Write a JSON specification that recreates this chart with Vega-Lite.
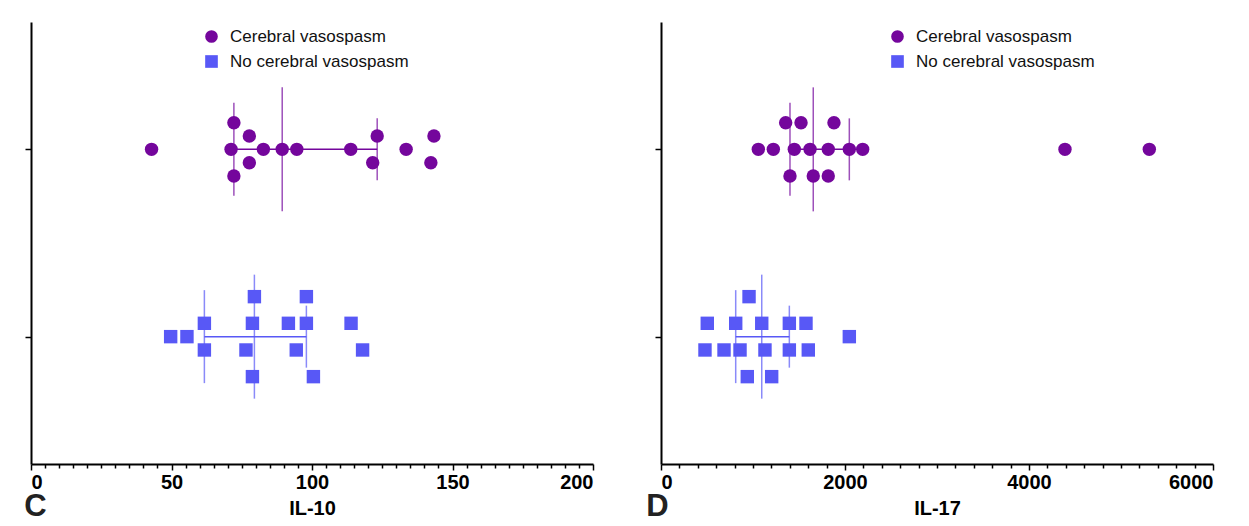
{
  "$schema": "https://vega.github.io/schema/vega-lite/v6.json",
  "background": "white",
  "padding": {"left": 24, "top": 22, "right": 5, "bottom": 0},
  "bounds": "flush",
  "spacing": 68,
  "resolve": {"scale": {"color": "independent", "shape": "independent"}, "legend": {"color": "independent", "shape": "independent"}},
  "config": {
    "font": "Liberation Sans",
    "view": {"stroke": null},
    "axis": {
      "grid": false,
      "domainColor": "black",
      "domainWidth": 2,
      "tickColor": "black",
      "tickWidth": 1.5,
      "labelFont": "Liberation Sans",
      "labelFontWeight": "bold",
      "labelFontSize": 20,
      "labelColor": "black",
      "labelPadding": 2,
      "labelOverlap": false,
      "titleFont": "Liberation Sans",
      "titleFontWeight": "bold",
      "titleFontSize": 20,
      "titleColor": "black",
      "titlePadding": 6
    },
    "legend": {
      "labelFont": "Liberation Sans",
      "labelFontSize": 17,
      "labelColor": "#111111",
      "labelLimit": 0,
      "symbolSize": 160,
      "symbolOpacity": 1,
      "symbolStrokeWidth": 0,
      "labelOffset": 10,
      "rowPadding": 7,
      "padding": 0
    },
    "title": {"font": "Liberation Sans", "fontSize": 31, "fontWeight": "bold", "color": "#222222"}
  },
  "datasets": {
    "il10_points": [
      {"group": "Cerebral vasospasm", "value": 42.9, "lane": 0},
      {"group": "Cerebral vasospasm", "value": 72.2, "lane": -2},
      {"group": "Cerebral vasospasm", "value": 77.7, "lane": -1},
      {"group": "Cerebral vasospasm", "value": 71.2, "lane": 0},
      {"group": "Cerebral vasospasm", "value": 77.7, "lane": 1},
      {"group": "Cerebral vasospasm", "value": 72.2, "lane": 2},
      {"group": "Cerebral vasospasm", "value": 82.7, "lane": 0},
      {"group": "Cerebral vasospasm", "value": 89.4, "lane": 0},
      {"group": "Cerebral vasospasm", "value": 94.6, "lane": 0},
      {"group": "Cerebral vasospasm", "value": 113.8, "lane": 0},
      {"group": "Cerebral vasospasm", "value": 123.2, "lane": -1},
      {"group": "Cerebral vasospasm", "value": 121.6, "lane": 1},
      {"group": "Cerebral vasospasm", "value": 133.5, "lane": 0},
      {"group": "Cerebral vasospasm", "value": 143.4, "lane": -1},
      {"group": "Cerebral vasospasm", "value": 142.3, "lane": 1},
      {"group": "No cerebral vasospasm", "value": 49.7, "lane": 0},
      {"group": "No cerebral vasospasm", "value": 55.5, "lane": 0},
      {"group": "No cerebral vasospasm", "value": 61.7, "lane": -1},
      {"group": "No cerebral vasospasm", "value": 61.7, "lane": 1},
      {"group": "No cerebral vasospasm", "value": 79.5, "lane": -3},
      {"group": "No cerebral vasospasm", "value": 78.8, "lane": -1},
      {"group": "No cerebral vasospasm", "value": 76.5, "lane": 1},
      {"group": "No cerebral vasospasm", "value": 78.8, "lane": 3},
      {"group": "No cerebral vasospasm", "value": 91.6, "lane": -1},
      {"group": "No cerebral vasospasm", "value": 94.4, "lane": 1},
      {"group": "No cerebral vasospasm", "value": 98.0, "lane": -3},
      {"group": "No cerebral vasospasm", "value": 98.0, "lane": -1},
      {"group": "No cerebral vasospasm", "value": 100.5, "lane": 3},
      {"group": "No cerebral vasospasm", "value": 113.9, "lane": -1},
      {"group": "No cerebral vasospasm", "value": 118.0, "lane": 1}
    ],
    "il10_stats": [
      {"group": "Cerebral vasospasm", "stat": "median", "value": 89.4},
      {"group": "Cerebral vasospasm", "stat": "q1", "value": 72.2},
      {"group": "Cerebral vasospasm", "stat": "q3", "value": 123.2},
      {"group": "No cerebral vasospasm", "stat": "median", "value": 79.5},
      {"group": "No cerebral vasospasm", "stat": "q1", "value": 61.7},
      {"group": "No cerebral vasospasm", "stat": "q3", "value": 98.0}
    ],
    "il17_points": [
      {"group": "Cerebral vasospasm", "value": 1058, "lane": 0},
      {"group": "Cerebral vasospasm", "value": 1221, "lane": 0},
      {"group": "Cerebral vasospasm", "value": 1355, "lane": -2},
      {"group": "Cerebral vasospasm", "value": 1522, "lane": -2},
      {"group": "Cerebral vasospasm", "value": 1880, "lane": -2},
      {"group": "Cerebral vasospasm", "value": 1449, "lane": 0},
      {"group": "Cerebral vasospasm", "value": 1620, "lane": 0},
      {"group": "Cerebral vasospasm", "value": 1818, "lane": 0},
      {"group": "Cerebral vasospasm", "value": 2047, "lane": 0},
      {"group": "Cerebral vasospasm", "value": 2192, "lane": 0},
      {"group": "Cerebral vasospasm", "value": 1402, "lane": 2},
      {"group": "Cerebral vasospasm", "value": 1655, "lane": 2},
      {"group": "Cerebral vasospasm", "value": 1818, "lane": 2},
      {"group": "Cerebral vasospasm", "value": 4391, "lane": 0},
      {"group": "Cerebral vasospasm", "value": 5308, "lane": 0},
      {"group": "No cerebral vasospasm", "value": 957, "lane": -3},
      {"group": "No cerebral vasospasm", "value": 503, "lane": -1},
      {"group": "No cerebral vasospasm", "value": 812, "lane": -1},
      {"group": "No cerebral vasospasm", "value": 1095, "lane": -1},
      {"group": "No cerebral vasospasm", "value": 1395, "lane": -1},
      {"group": "No cerebral vasospasm", "value": 1576, "lane": -1},
      {"group": "No cerebral vasospasm", "value": 478, "lane": 1},
      {"group": "No cerebral vasospasm", "value": 685, "lane": 1},
      {"group": "No cerebral vasospasm", "value": 859, "lane": 1},
      {"group": "No cerebral vasospasm", "value": 1130, "lane": 1},
      {"group": "No cerebral vasospasm", "value": 1395, "lane": 1},
      {"group": "No cerebral vasospasm", "value": 1601, "lane": 1},
      {"group": "No cerebral vasospasm", "value": 938, "lane": 3},
      {"group": "No cerebral vasospasm", "value": 1203, "lane": 3},
      {"group": "No cerebral vasospasm", "value": 2047, "lane": 0}
    ],
    "il17_stats": [
      {"group": "Cerebral vasospasm", "stat": "median", "value": 1655},
      {"group": "Cerebral vasospasm", "stat": "q1", "value": 1402},
      {"group": "Cerebral vasospasm", "stat": "q3", "value": 2047},
      {"group": "No cerebral vasospasm", "stat": "median", "value": 1095},
      {"group": "No cerebral vasospasm", "stat": "q1", "value": 812},
      {"group": "No cerebral vasospasm", "stat": "q3", "value": 1395}
    ]
  },
  "hconcat": [
    {
      "width": 562,
      "height": 442,
      "title": {"text": "C", "orient": "bottom", "anchor": "start", "offset": -26, "dx": 0},
      "encoding": {
        "y": {"field": "group", "type": "nominal", "scale": {"type": "point", "padding": 0.68, "domain": ["Cerebral vasospasm", "No cerebral vasospasm"]}, "axis": {"title": null, "labels": false, "tickSize": 6}},
        "color": {"field": "group", "type": "nominal", "scale": {"domain": ["Cerebral vasospasm", "No cerebral vasospasm"], "range": ["#74069C", "#5858F6"]}, "legend": {"title": null, "orient": "none", "legendX": 172, "legendY": 6}}
      },
      "layer": [
        {
          "data": {"name": "il10_stats"},
          "mark": {"type": "rule", "strokeWidth": 1.5},
          "encoding": {
            "x": {"aggregate": "min", "field": "value", "type": "quantitative", "scale": {"domain": [0, 200], "nice": false}, "axis": {"title": "IL-10", "values": [0,5,10,15,20,25,30,35,40,45,50,55,60,65,70,75,80,85,90,95,100,105,110,115,120,125,130,135,140,145,150,155,160,165,170,175,180,185,190,195,200], "labelExpr": "datum.value % 50 === 0 ? datum.label : ''", "labelOverlap": false, "tickSize": {"condition": {"test": "datum.value % 50 === 0", "value": 6}, "value": 4}}},
            "x2": {"aggregate": "max", "field": "value"}
          }
        },
        {
          "data": {"name": "il10_stats"},
          "mark": {"type": "tick", "thickness": 1.5, "orient": "vertical"},
          "encoding": {
            "x": {"field": "value", "type": "quantitative", "scale": {"domain": [0, 200], "nice": false}, "axis": {"title": "IL-10", "values": [0,5,10,15,20,25,30,35,40,45,50,55,60,65,70,75,80,85,90,95,100,105,110,115,120,125,130,135,140,145,150,155,160,165,170,175,180,185,190,195,200], "labelExpr": "datum.value % 50 === 0 ? datum.label : ''", "labelOverlap": false, "tickSize": {"condition": {"test": "datum.value % 50 === 0", "value": 6}, "value": 4}}},
            "size": {"field": "stat", "type": "nominal", "scale": {"domain": ["median", "q1", "q3"], "range": [124, 62, 62]}, "legend": null}
          }
        },
        {
          "data": {"name": "il10_points"},
          "mark": {"type": "point", "filled": true, "opacity": 1, "size": 180},
          "encoding": {
            "x": {"field": "value", "type": "quantitative", "scale": {"domain": [0, 200], "nice": false}, "axis": {"title": "IL-10", "values": [0,5,10,15,20,25,30,35,40,45,50,55,60,65,70,75,80,85,90,95,100,105,110,115,120,125,130,135,140,145,150,155,160,165,170,175,180,185,190,195,200], "labelExpr": "datum.value % 50 === 0 ? datum.label : ''", "labelOverlap": false, "tickSize": {"condition": {"test": "datum.value % 50 === 0", "value": 6}, "value": 4}}},
            "yOffset": {"field": "lane", "type": "quantitative", "scale": {"domain": [-3, 3], "range": [-40, 40]}},
            "shape": {"field": "group", "type": "nominal", "scale": {"domain": ["Cerebral vasospasm", "No cerebral vasospasm"], "range": ["circle", "square"]}, "legend": {"title": null, "orient": "none", "legendX": 172, "legendY": 6}}
          }
        }
      ]
    },
    {
      "width": 552,
      "height": 442,
      "title": {"text": "D", "orient": "bottom", "anchor": "start", "offset": -26, "dx": -8},
      "encoding": {
        "y": {"field": "group", "type": "nominal", "scale": {"type": "point", "padding": 0.68, "domain": ["Cerebral vasospasm", "No cerebral vasospasm"]}, "axis": {"title": null, "labels": false, "tickSize": 6}},
        "color": {"field": "group", "type": "nominal", "scale": {"domain": ["Cerebral vasospasm", "No cerebral vasospasm"], "range": ["#74069C", "#5858F6"]}, "legend": {"title": null, "orient": "none", "legendX": 228, "legendY": 6}}
      },
      "layer": [
        {
          "data": {"name": "il17_stats"},
          "mark": {"type": "rule", "strokeWidth": 1.5},
          "encoding": {
            "x": {"aggregate": "min", "field": "value", "type": "quantitative", "scale": {"domain": [0, 6000], "nice": false}, "axis": {"title": "IL-17", "values": [0,200,400,600,800,1000,1200,1400,1600,1800,2000,2200,2400,2600,2800,3000,3200,3400,3600,3800,4000,4200,4400,4600,4800,5000,5200,5400,5600,5800,6000], "labelExpr": "datum.value % 2000 === 0 ? datum.value : ''", "labelOverlap": false, "tickSize": {"condition": {"test": "datum.value % 2000 === 0", "value": 6}, "value": 4}}},
            "x2": {"aggregate": "max", "field": "value"}
          }
        },
        {
          "data": {"name": "il17_stats"},
          "mark": {"type": "tick", "thickness": 1.5, "orient": "vertical"},
          "encoding": {
            "x": {"field": "value", "type": "quantitative", "scale": {"domain": [0, 6000], "nice": false}, "axis": {"title": "IL-17", "values": [0,200,400,600,800,1000,1200,1400,1600,1800,2000,2200,2400,2600,2800,3000,3200,3400,3600,3800,4000,4200,4400,4600,4800,5000,5200,5400,5600,5800,6000], "labelExpr": "datum.value % 2000 === 0 ? datum.value : ''", "labelOverlap": false, "tickSize": {"condition": {"test": "datum.value % 2000 === 0", "value": 6}, "value": 4}}},
            "size": {"field": "stat", "type": "nominal", "scale": {"domain": ["median", "q1", "q3"], "range": [124, 62, 62]}, "legend": null}
          }
        },
        {
          "data": {"name": "il17_points"},
          "mark": {"type": "point", "filled": true, "opacity": 1, "size": 180},
          "encoding": {
            "x": {"field": "value", "type": "quantitative", "scale": {"domain": [0, 6000], "nice": false}, "axis": {"title": "IL-17", "values": [0,200,400,600,800,1000,1200,1400,1600,1800,2000,2200,2400,2600,2800,3000,3200,3400,3600,3800,4000,4200,4400,4600,4800,5000,5200,5400,5600,5800,6000], "labelExpr": "datum.value % 2000 === 0 ? datum.value : ''", "labelOverlap": false, "tickSize": {"condition": {"test": "datum.value % 2000 === 0", "value": 6}, "value": 4}}},
            "yOffset": {"field": "lane", "type": "quantitative", "scale": {"domain": [-3, 3], "range": [-40, 40]}},
            "shape": {"field": "group", "type": "nominal", "scale": {"domain": ["Cerebral vasospasm", "No cerebral vasospasm"], "range": ["circle", "square"]}, "legend": {"title": null, "orient": "none", "legendX": 228, "legendY": 6}}
          }
        }
      ]
    }
  ]
}
